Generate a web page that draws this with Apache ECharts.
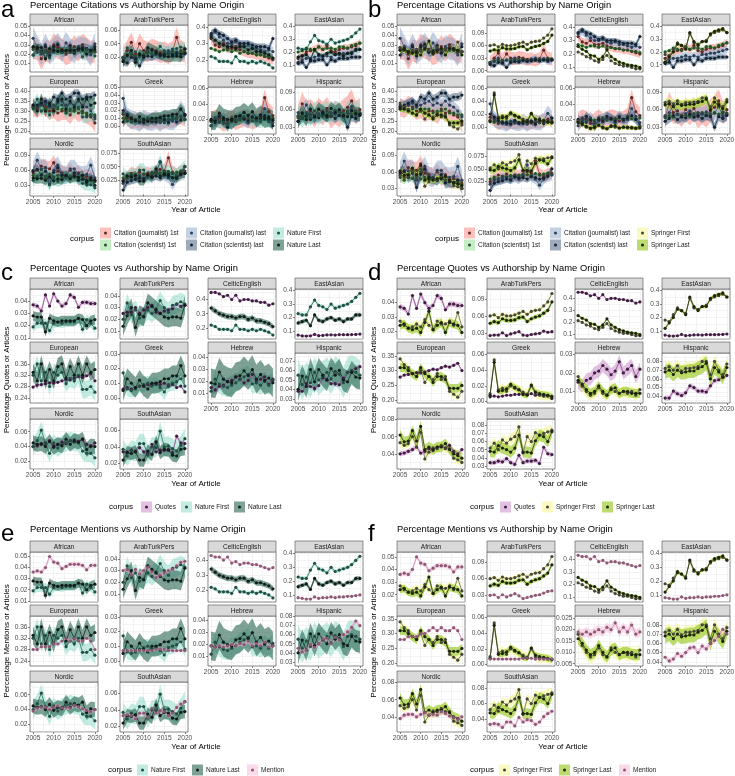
<!DOCTYPE html>
<html>
<head>
<meta charset="utf-8">
<script src="https://cdn.jsdelivr.net/npm/echarts@6/dist/echarts.min.js"></script>
<style>
html, body { margin: 0; padding: 0; background: #fff; }
#main { width: 735px; height: 776px; }
</style>
</head>
<body>
<div id="main"></div>
<script>
// ---- data (2005..2020) ----
const years = [2005,2006,2007,2008,2009,2010,2011,2012,2013,2014,2015,2016,2017,2018,2019,2020];
const facets = ['African','ArabTurkPers','CelticEnglish','EastAsian','European','Greek','Hebrew','Hispanic','Nordic','SouthAsian'];

// one row per facet, same order as facets
const citJ1 = [
  [0.027,0.025,0.015,0.024,0.022,0.030,0.027,0.025,0.020,0.022,0.028,0.024,0.030,0.026,0.022,0.023],
  [0.020,0.030,0.042,0.025,0.040,0.030,0.028,0.032,0.030,0.027,0.028,0.025,0.029,0.049,0.030,0.027],
  [0.33,0.29,0.28,0.30,0.27,0.27,0.28,0.26,0.25,0.24,0.24,0.23,0.23,0.22,0.21,0.20],
  [0.15,0.17,0.20,0.21,0.22,0.24,0.22,0.25,0.21,0.20,0.22,0.23,0.23,0.24,0.25,0.27],
  [0.32,0.31,0.33,0.32,0.30,0.31,0.29,0.30,0.30,0.28,0.31,0.29,0.30,0.28,0.27,0.24],
  [0.015,0.010,0.005,0.008,0.005,0.007,0.006,0.007,0.008,0.005,0.006,0.008,0.007,0.010,0.012,0.009],
  [0.018,0.022,0.020,0.015,0.018,0.022,0.017,0.020,0.022,0.021,0.018,0.020,0.024,0.048,0.030,0.025],
  [0.048,0.070,0.055,0.058,0.050,0.060,0.053,0.062,0.048,0.055,0.050,0.058,0.064,0.075,0.055,0.060],
  [0.055,0.060,0.068,0.065,0.063,0.075,0.058,0.055,0.050,0.060,0.050,0.055,0.045,0.048,0.045,0.040],
  [0.025,0.030,0.038,0.035,0.040,0.036,0.038,0.035,0.040,0.045,0.042,0.066,0.040,0.035,0.040,0.042]
];
const citS1 = [
  [0.025,0.027,0.022,0.023,0.025,0.024,0.025,0.022,0.024,0.026,0.024,0.025,0.024,0.024,0.023,0.022],
  [0.020,0.024,0.025,0.022,0.026,0.025,0.026,0.027,0.026,0.024,0.026,0.025,0.027,0.026,0.028,0.028],
  [0.27,0.26,0.25,0.26,0.26,0.25,0.26,0.24,0.25,0.24,0.24,0.23,0.23,0.22,0.22,0.21],
  [0.20,0.21,0.23,0.22,0.21,0.24,0.22,0.23,0.23,0.22,0.24,0.24,0.23,0.25,0.26,0.27],
  [0.31,0.32,0.30,0.31,0.32,0.30,0.31,0.31,0.29,0.30,0.30,0.31,0.29,0.29,0.28,0.28],
  [0.010,0.007,0.009,0.006,0.008,0.007,0.009,0.006,0.008,0.007,0.009,0.007,0.008,0.010,0.007,0.008],
  [0.017,0.020,0.018,0.021,0.019,0.020,0.022,0.019,0.021,0.020,0.022,0.020,0.023,0.021,0.020,0.022],
  [0.046,0.050,0.047,0.052,0.049,0.051,0.048,0.053,0.050,0.054,0.051,0.053,0.055,0.052,0.056,0.054],
  [0.050,0.045,0.053,0.048,0.052,0.047,0.050,0.046,0.049,0.044,0.047,0.043,0.045,0.041,0.040,0.037],
  [0.030,0.034,0.031,0.036,0.033,0.037,0.034,0.038,0.036,0.039,0.037,0.041,0.038,0.040,0.042,0.039]
];
const citJL = [
  [0.037,0.028,0.020,0.030,0.021,0.025,0.031,0.023,0.032,0.025,0.022,0.028,0.026,0.025,0.019,0.031],
  [0.018,0.022,0.030,0.020,0.025,0.022,0.030,0.023,0.025,0.022,0.026,0.030,0.024,0.028,0.022,0.025],
  [0.35,0.37,0.34,0.32,0.30,0.30,0.31,0.29,0.28,0.29,0.27,0.27,0.26,0.25,0.26,0.25],
  [0.12,0.14,0.15,0.15,0.16,0.17,0.16,0.17,0.16,0.18,0.18,0.19,0.19,0.20,0.21,0.22],
  [0.33,0.32,0.33,0.34,0.32,0.33,0.34,0.35,0.33,0.34,0.33,0.35,0.33,0.32,0.30,0.27],
  [0.036,0.012,0.008,0.007,0.004,0.009,0.006,0.005,0.008,0.004,0.009,0.007,0.006,0.010,0.021,0.013],
  [0.012,0.020,0.016,0.022,0.015,0.018,0.020,0.022,0.020,0.016,0.024,0.018,0.020,0.034,0.024,0.016],
  [0.050,0.055,0.068,0.052,0.047,0.053,0.058,0.050,0.055,0.052,0.056,0.050,0.054,0.065,0.050,0.052],
  [0.060,0.080,0.062,0.065,0.045,0.060,0.070,0.052,0.050,0.063,0.063,0.052,0.050,0.052,0.070,0.045],
  [0.020,0.028,0.030,0.032,0.035,0.030,0.034,0.030,0.038,0.058,0.035,0.030,0.018,0.030,0.035,0.038]
];
const citSL = [
  [0.019,0.026,0.023,0.028,0.018,0.028,0.030,0.022,0.023,0.029,0.021,0.025,0.027,0.026,0.024,0.028],
  [0.015,0.012,0.020,0.018,0.008,0.020,0.022,0.021,0.025,0.023,0.024,0.026,0.024,0.026,0.025,0.026],
  [0.36,0.38,0.36,0.35,0.33,0.31,0.32,0.30,0.30,0.30,0.29,0.28,0.28,0.28,0.27,0.33],
  [0.11,0.12,0.08,0.13,0.13,0.14,0.14,0.10,0.14,0.13,0.15,0.15,0.15,0.16,0.16,0.16],
  [0.32,0.33,0.34,0.35,0.33,0.37,0.36,0.39,0.36,0.37,0.39,0.39,0.36,0.37,0.37,0.38],
  [0.020,0.015,0.010,0.006,0.006,0.004,0.010,0.006,0.005,0.010,0.008,0.004,0.012,0.005,0.008,0.014],
  [0.020,0.016,0.024,0.019,0.010,0.020,0.018,0.024,0.021,0.018,0.023,0.020,0.022,0.025,0.020,0.012],
  [0.040,0.045,0.050,0.043,0.048,0.046,0.052,0.047,0.050,0.045,0.050,0.048,0.030,0.048,0.045,0.050],
  [0.058,0.062,0.050,0.058,0.032,0.056,0.065,0.050,0.048,0.045,0.055,0.040,0.042,0.040,0.045,0.030],
  [0.008,0.022,0.025,0.027,0.030,0.028,0.035,0.032,0.033,0.030,0.035,0.033,0.030,0.032,0.036,0.050]
];
const natFirst = [
  [0.019,0.022,0.022,0.022,0.016,0.022,0.023,0.022,0.023,0.023,0.023,0.026,0.017,0.025,0.022,0.018],
  [0.020,0.034,0.024,0.028,0.021,0.023,0.028,0.025,0.029,0.036,0.030,0.026,0.032,0.033,0.035,0.033],
  [0.22,0.21,0.19,0.19,0.19,0.18,0.22,0.19,0.19,0.18,0.19,0.18,0.19,0.18,0.17,0.15],
  [0.23,0.22,0.22,0.28,0.33,0.29,0.28,0.26,0.30,0.27,0.28,0.29,0.30,0.32,0.35,0.38],
  [0.32,0.36,0.30,0.33,0.28,0.33,0.32,0.33,0.29,0.31,0.30,0.32,0.27,0.27,0.28,0.26],
  [0.017,0.006,0.005,0.006,0.008,0.009,0.010,0.008,0.009,0.007,0.004,0.009,0.010,0.011,0.013,0.008],
  [0.012,0.022,0.018,0.016,0.015,0.017,0.019,0.022,0.024,0.026,0.018,0.019,0.017,0.020,0.017,0.021],
  [0.055,0.045,0.053,0.047,0.058,0.050,0.054,0.058,0.051,0.059,0.056,0.047,0.058,0.060,0.058,0.055],
  [0.040,0.048,0.062,0.044,0.031,0.045,0.038,0.043,0.045,0.048,0.046,0.045,0.034,0.031,0.031,0.025],
  [0.037,0.029,0.036,0.034,0.044,0.044,0.030,0.040,0.039,0.059,0.040,0.041,0.038,0.035,0.042,0.050]
];
const natLast = [
  [0.028,0.027,0.027,0.015,0.026,0.024,0.023,0.024,0.024,0.024,0.024,0.026,0.025,0.020,0.024,0.025],
  [0.014,0.023,0.030,0.013,0.024,0.022,0.034,0.031,0.028,0.025,0.022,0.021,0.022,0.022,0.021,0.032],
  [0.34,0.32,0.30,0.29,0.28,0.28,0.27,0.28,0.28,0.26,0.27,0.25,0.25,0.24,0.23,0.21],
  [0.16,0.17,0.18,0.14,0.22,0.18,0.17,0.19,0.20,0.18,0.19,0.17,0.19,0.19,0.22,0.22],
  [0.33,0.30,0.36,0.30,0.34,0.30,0.35,0.36,0.31,0.35,0.32,0.36,0.32,0.36,0.33,0.34],
  [0.005,0.013,0.010,0.007,0.012,0.008,0.006,0.010,0.010,0.011,0.013,0.013,0.015,0.015,0.022,0.015],
  [0.019,0.018,0.028,0.022,0.020,0.019,0.024,0.025,0.029,0.025,0.030,0.022,0.026,0.021,0.023,0.019],
  [0.040,0.054,0.043,0.061,0.048,0.061,0.055,0.050,0.062,0.055,0.060,0.050,0.048,0.058,0.053,0.052],
  [0.045,0.043,0.044,0.040,0.047,0.039,0.043,0.041,0.050,0.043,0.048,0.046,0.050,0.036,0.041,0.040],
  [0.024,0.033,0.032,0.034,0.024,0.024,0.035,0.031,0.046,0.033,0.037,0.036,0.030,0.029,0.037,0.038]
];
const sprFirst = [
  [0.027,0.024,0.022,0.023,0.025,0.023,0.028,0.024,0.021,0.027,0.025,0.025,0.027,0.024,0.033,0.023],
  [0.060,0.062,0.057,0.063,0.060,0.060,0.062,0.065,0.068,0.063,0.068,0.070,0.071,0.078,0.085,0.100],
  [0.215,0.20,0.18,0.17,0.15,0.14,0.16,0.19,0.15,0.13,0.12,0.11,0.11,0.10,0.09,0.09],
  [0.18,0.17,0.22,0.27,0.25,0.23,0.34,0.27,0.26,0.28,0.29,0.33,0.35,0.36,0.37,0.35],
  [0.34,0.32,0.31,0.29,0.28,0.30,0.26,0.28,0.27,0.29,0.27,0.28,0.23,0.22,0.21,0.23],
  [0.010,0.053,0.015,0.017,0.013,0.020,0.017,0.015,0.012,0.009,0.020,0.010,0.008,0.008,0.007,0.007],
  [0.018,0.013,0.010,0.008,0.009,0.012,0.009,0.008,0.012,0.010,0.009,0.010,0.009,0.010,0.008,0.011],
  [0.072,0.074,0.070,0.075,0.069,0.072,0.072,0.073,0.074,0.080,0.080,0.065,0.080,0.070,0.065,0.077],
  [0.053,0.050,0.052,0.060,0.048,0.065,0.034,0.042,0.047,0.046,0.050,0.046,0.046,0.035,0.033,0.030],
  [0.052,0.058,0.050,0.062,0.058,0.063,0.066,0.078,0.046,0.066,0.060,0.071,0.068,0.070,0.072,0.074]
];
const sprLast = [
  [0.024,0.025,0.022,0.021,0.022,0.019,0.026,0.034,0.021,0.024,0.026,0.019,0.026,0.025,0.024,0.019],
  [0.047,0.050,0.048,0.055,0.052,0.052,0.053,0.057,0.058,0.050,0.055,0.058,0.060,0.065,0.070,0.085],
  [0.257,0.235,0.22,0.19,0.185,0.16,0.18,0.23,0.18,0.16,0.14,0.13,0.12,0.115,0.11,0.10],
  [0.12,0.16,0.20,0.26,0.25,0.22,0.35,0.28,0.25,0.28,0.28,0.34,0.36,0.37,0.38,0.35],
  [0.31,0.31,0.30,0.29,0.28,0.31,0.29,0.28,0.26,0.28,0.28,0.27,0.24,0.24,0.24,0.25],
  [0.008,0.050,0.013,0.014,0.016,0.022,0.018,0.015,0.009,0.008,0.021,0.012,0.010,0.009,0.008,0.006],
  [0.016,0.014,0.011,0.009,0.010,0.013,0.010,0.008,0.011,0.012,0.009,0.010,0.010,0.009,0.009,0.009],
  [0.068,0.070,0.065,0.070,0.067,0.068,0.069,0.069,0.072,0.074,0.078,0.060,0.073,0.068,0.062,0.073],
  [0.062,0.054,0.055,0.067,0.055,0.072,0.045,0.048,0.045,0.048,0.048,0.052,0.045,0.040,0.038,0.035],
  [0.048,0.047,0.055,0.052,0.050,0.047,0.052,0.068,0.047,0.047,0.046,0.061,0.068,0.066,0.060,0.072]
];
const quotes = [
  [0.037,0.036,0.032,0.045,0.036,0.046,0.040,0.036,0.038,0.045,0.043,0.035,0.039,0.039,0.038,0.038],
  [0.025,0.026,0.026,0.030,0.025,0.028,0.030,0.032,0.026,0.025,0.027,0.028,0.029,0.033,0.031,0.032],
  [0.45,0.45,0.44,0.42,0.43,0.40,0.43,0.39,0.40,0.40,0.39,0.39,0.38,0.38,0.36,0.37],
  [0.070,0.064,0.063,0.065,0.075,0.066,0.068,0.071,0.072,0.070,0.074,0.073,0.073,0.074,0.075,0.078],
  [0.278,0.285,0.287,0.290,0.293,0.292,0.295,0.300,0.305,0.303,0.310,0.315,0.312,0.318,0.325,0.300],
  [0.006,0.007,0.006,0.007,0.008,0.008,0.009,0.009,0.010,0.009,0.010,0.008,0.009,0.007,0.008,0.004],
  [0.015,0.013,0.016,0.017,0.020,0.021,0.024,0.022,0.019,0.021,0.026,0.020,0.022,0.024,0.018,0.022],
  [0.038,0.038,0.046,0.043,0.041,0.044,0.052,0.050,0.046,0.046,0.045,0.052,0.058,0.059,0.062,0.064],
  [0.040,0.041,0.043,0.045,0.048,0.041,0.043,0.046,0.044,0.048,0.049,0.047,0.050,0.043,0.040,0.045],
  [0.034,0.034,0.036,0.035,0.039,0.034,0.032,0.043,0.034,0.036,0.036,0.037,0.033,0.053,0.045,0.044]
];
const mention = [
  [0.036,0.037,0.036,0.040,0.050,0.045,0.044,0.039,0.041,0.043,0.043,0.043,0.042,0.038,0.042,0.042],
  [0.030,0.031,0.026,0.031,0.027,0.030,0.033,0.029,0.024,0.026,0.028,0.030,0.031,0.034,0.037,0.038],
  [0.43,0.42,0.42,0.40,0.42,0.38,0.39,0.37,0.38,0.38,0.37,0.37,0.36,0.35,0.34,0.35],
  [0.080,0.075,0.070,0.070,0.085,0.075,0.080,0.080,0.085,0.080,0.085,0.085,0.090,0.090,0.095,0.100],
  [0.28,0.28,0.29,0.29,0.29,0.30,0.30,0.31,0.32,0.31,0.32,0.31,0.31,0.32,0.31,0.28],
  [0.007,0.007,0.007,0.007,0.007,0.007,0.007,0.007,0.008,0.008,0.008,0.007,0.007,0.007,0.007,0.007],
  [0.019,0.018,0.019,0.018,0.019,0.020,0.019,0.021,0.020,0.023,0.019,0.021,0.019,0.022,0.018,0.019],
  [0.045,0.041,0.043,0.049,0.046,0.050,0.055,0.056,0.050,0.057,0.054,0.060,0.063,0.068,0.075,0.070],
  [0.038,0.042,0.043,0.043,0.040,0.043,0.045,0.042,0.043,0.042,0.046,0.044,0.041,0.039,0.037,0.040],
  [0.033,0.034,0.033,0.029,0.036,0.036,0.031,0.042,0.036,0.039,0.038,0.033,0.036,0.043,0.047,0.050]
];

// confidence band half-widths, one per facet
const citJ1Band    = [0.012,0.015,0.030,0.030,0.045,0.010,0.011,0.020,0.015,0.012];
const citS1Band    = [0.003,0.004,0.010,0.015,0.015,0.003,0.003,0.005,0.008,0.004];
const citJLBand    = [0.012,0.008,0.030,0.030,0.030,0.012,0.008,0.012,0.018,0.010];
const citSLBand    = [0.005,0.006,0.020,0.020,0.020,0.005,0.006,0.008,0.010,0.007];
const natFirstBand = [0.004,0.008,0.012,0.015,0.030,0.005,0.008,0.016,0.012,0.012];
const natLastBand  = [0.004,0.008,0.020,0.015,0.030,0.007,0.012,0.012,0.010,0.008];
const sprFirstBand = [0.003,0.004,0.008,0.010,0.012,0.006,0.003,0.007,0.005,0.007];
const sprLastBand  = [0.003,0.004,0.010,0.012,0.015,0.004,0.0025,0.008,0.006,0.007];
const quotesBand   = [0.002,0.002,0.008,0.005,0.005,0.001,0.0035,0.003,0.003,0.003];
const mentionBand  = [0.002,0.002,0.008,0.005,0.005,0.001,0.002,0.003,0.003,0.003];

// y tick labels per panel, one list per facet
const ticksA = [['0.01','0.02','0.03','0.04','0.05'],['0.02','0.04','0.06'],['0.2','0.3','0.4'],['0.1','0.2','0.3','0.4'],['0.20','0.25','0.30','0.35','0.40'],['0.00','0.01','0.02','0.03','0.04','0.05'],['0.02','0.04','0.06'],['0.03','0.06','0.09'],['0.03','0.06','0.09'],['0.025','0.050','0.075']];
const ticksB = [['0.01','0.02','0.03','0.04','0.05'],['0.00','0.03','0.06','0.09'],['0.1','0.2','0.3','0.4'],['0.1','0.2','0.3','0.4'],['0.20','0.25','0.30','0.35','0.40'],['0.00','0.02','0.04','0.06'],['0.00','0.02','0.04','0.06'],['0.03','0.06','0.09'],['0.03','0.06','0.09'],['0.025','0.050','0.075']];
const ticksC = [['0.01','0.02','0.03','0.04'],['0.01','0.02','0.03','0.04'],['0.2','0.3','0.4'],['0.1','0.2','0.3','0.4'],['0.24','0.28','0.32','0.36'],['0.00','0.01','0.02','0.03'],['0.01','0.02','0.03','0.04'],['0.03','0.04','0.05','0.06','0.07','0.08'],['0.02','0.04','0.06'],['0.02','0.04','0.06']];
const ticksD = [['0.02','0.03','0.04'],['0.03','0.06','0.09'],['0.1','0.2','0.3','0.4'],['0.1','0.2','0.3','0.4'],['0.20','0.25','0.30','0.35'],['0.00','0.02','0.04','0.06'],['0.01','0.02','0.03'],['0.04','0.05','0.06','0.07','0.08','0.09'],['0.04','0.06','0.08'],['0.03','0.04','0.05','0.06','0.07','0.08','0.09']];
const ticksE = [['0.01','0.02','0.03','0.04','0.05'],['0.01','0.02','0.03','0.04'],['0.2','0.3','0.4'],['0.1','0.2','0.3','0.4'],['0.24','0.28','0.32','0.36'],['0.00','0.01','0.02','0.03'],['0.01','0.02','0.03','0.04'],['0.03','0.04','0.05','0.06','0.07','0.08'],['0.02','0.04','0.06'],['0.02','0.04','0.06']];
const ticksF = [['0.02','0.03','0.04','0.05'],['0.03','0.06','0.09'],['0.1','0.2','0.3','0.4'],['0.1','0.2','0.3','0.4'],['0.20','0.25','0.30','0.35'],['0.00','0.02','0.04','0.06'],['0.005','0.010','0.015','0.020','0.025'],['0.04','0.05','0.06','0.07','0.08','0.09'],['0.04','0.06','0.08'],['0.04','0.06','0.08']];
const xTicks = [2005, 2010, 2015, 2020];

// ---- styles ----
const FONT = '"Liberation Sans", Arial, sans-serif';
const SERIES = {
  citJ1:    { name: 'Citation (journalist) 1st', data: citJ1, band: citJ1Band, fill: 'rgba(248,118,109,0.45)', line: '#8a4440', point: '#5e2a27' },
  citS1:    { name: 'Citation (scientist) 1st',  data: citS1, band: citS1Band, fill: 'rgba(124,214,124,0.45)', line: '#3f7a3f', point: '#2a522a' },
  citJL:    { name: 'Citation (journalist) last', data: citJL, band: citJLBand, fill: 'rgba(137,164,200,0.5)', line: '#435d7c', point: '#2e4055' },
  citSL:    { name: 'Citation (scientist) last', data: citSL, band: citSLBand, fill: 'rgba(60,88,120,0.5)', line: '#1f3347', point: '#16232f' },
  natFirst: { name: 'Nature First', data: natFirst, band: natFirstBand, fill: 'rgba(120,210,190,0.45)', line: '#2e6b5e', point: '#234d44' },
  natLast:  { name: 'Nature Last', data: natLast, band: natLastBand, fill: 'rgba(40,100,80,0.6)', line: '#1a2e28', point: '#111d1a' },
  sprFirst: { name: 'Springer First', data: sprFirst, band: sprFirstBand, fill: 'rgba(245,245,150,0.6)', line: '#6a6a55', point: '#45453a' },
  sprLast:  { name: 'Springer Last', data: sprLast, band: sprLastBand, fill: 'rgba(160,205,50,0.7)', line: '#2c3a10', point: '#1c250b' },
  quotes:   { name: 'Quotes', data: quotes, band: quotesBand, fill: 'rgba(200,140,200,0.55)', line: '#8c4f8c', point: '#3e1e3e' },
  mention:  { name: 'Mention', data: mention, band: mentionBand, fill: 'rgba(245,180,215,0.5)', line: '#c98bb0', point: '#8a5a74' }
};

// ---- layout of the six panels ----
const colLeft = [30, 120, 208, 295];
const colW = 68;
const stripH = 11;
const panels = [
  { letter: 'a', ox: 0,   title: 'Percentage Citations vs Authorship by Name Origin', yTitle: 'Percentage Citations or Articles',
    keys: ['citJ1','citS1','citJL','citSL','natFirst','natLast'], ticks: ticksA,
    letterY: 10, titleY: 5, strips: [14, 76, 138], plotH: 47, yTitleY: 110, xTitleY: 210,
    corpus: [70, 239], legend: [['citJ1',100,233],['citS1',100,245],['citJL',186,233],['citSL',186,245],['natFirst',273,233],['natLast',273,245]] },
  { letter: 'b', ox: 367, title: 'Percentage Citations vs Authorship by Name Origin', yTitle: 'Percentage Citations or Articles',
    keys: ['citJ1','citS1','citJL','citSL','sprFirst','sprLast'], ticks: ticksB,
    letterY: 10, titleY: 5, strips: [14, 76, 138], plotH: 47, yTitleY: 110, xTitleY: 210,
    corpus: [435, 239], legend: [['citJ1',464,233],['citS1',464,245],['citJL',550,233],['citSL',550,245],['sprFirst',637,233],['sprLast',637,245]] },
  { letter: 'c', ox: 0,   title: 'Percentage Quotes vs Authorship by Name Origin', yTitle: 'Percentage Quotes or Articles',
    keys: ['quotes','natFirst','natLast'], ticks: ticksC,
    letterY: 273, titleY: 268, strips: [278, 342, 408], plotH: 50, yTitleY: 380, xTitleY: 484,
    corpus: [109, 507], legend: [['quotes',141,507],['natFirst',181,507],['natLast',234,507]] },
  { letter: 'd', ox: 367, title: 'Percentage Quotes vs Authorship by Name Origin', yTitle: 'Percentage Quotes or Articles',
    keys: ['quotes','sprFirst','sprLast'], ticks: ticksD,
    letterY: 273, titleY: 268, strips: [278, 342, 408], plotH: 50, yTitleY: 380, xTitleY: 484,
    corpus: [470, 507], legend: [['quotes',500,507],['sprFirst',542,507],['sprLast',602,507]] },
  { letter: 'e', ox: 0,   title: 'Percentage Mentions vs Authorship by Name Origin', yTitle: 'Percentage Mentions or Articles',
    keys: ['natFirst','natLast','mention'], ticks: ticksE,
    letterY: 534, titleY: 529, strips: [541, 605, 671], plotH: 50, yTitleY: 641, xTitleY: 747,
    corpus: [108, 770], legend: [['natFirst',137,770],['natLast',192,770],['mention',247,770]] },
  { letter: 'f', ox: 367, title: 'Percentage Mentions vs Authorship by Name Origin', yTitle: 'Percentage Mentions or Articles',
    keys: ['sprFirst','sprLast','mention'], ticks: ticksF,
    letterY: 534, titleY: 529, strips: [541, 605, 671], plotH: 50, yTitleY: 641, xTitleY: 747,
    corpus: [470, 770], legend: [['sprFirst',499,770],['sprLast',559,770],['mention',619,770]] }
];

function txt(x, y, text, size, opts) {
  opts = opts || {};
  return {
    type: 'text', x: x, y: y, rotation: opts.rotation || 0, z: 100,
    style: {
      text: text, fill: opts.color || '#000', font: size + 'px ' + FONT,
      align: opts.align || 'left', verticalAlign: 'middle',
      textAlign: opts.align || 'left', textVerticalAlign: 'middle'
    }
  };
}

function withMinors(vals, lo, hi) {
  const out = vals.slice();
  const step = vals.length > 1 ? vals[1] - vals[0] : (hi - lo);
  for (let i = -1; i < vals.length; i++) {
    const m = (i < 0 ? vals[0] - step : vals[i]) + step / 2;
    if (m >= lo && m <= hi) out.push(m);
  }
  return out;
}

const grids = [], xAxes = [], yAxes = [], series = [], graphics = [];

panels.forEach(p => {
  // panel furniture
  graphics.push(txt(p.ox + 1, p.letterY, p.letter, 24, { color: '#000' }));
  graphics.push(txt(p.ox + 30, p.titleY, p.title, 9.4, { color: '#000' }));
  graphics.push(txt(p.ox + 7, p.yTitleY, p.yTitle, 8, { color: '#000', align: 'center', rotation: Math.PI / 2 }));
  graphics.push(txt(p.ox + 196, p.xTitleY, 'Year of Article', 8, { color: '#000', align: 'center' }));
  graphics.push(txt(p.corpus[0], p.corpus[1], 'corpus', 8, { color: '#000' }));
  p.legend.forEach(([k, x, y]) => {
    const s = SERIES[k];
    graphics.push({ type: 'rect', shape: { x: x, y: y - 5.5, width: 11, height: 11 }, style: { fill: s.fill }, z: 100 });
    graphics.push({ type: 'circle', shape: { cx: x + 5.5, cy: y, r: 1.5 }, style: { fill: s.point }, z: 101 });
    graphics.push(txt(x + 14, y, s.name, 6.5, { color: '#1a1a1a' }));
  });

  facets.forEach((name, f) => {
    const row = Math.floor(f / 4), col = f % 4;
    const left = p.ox + colLeft[col];
    const sTop = p.strips[row];
    const top = sTop + stripH;
    const gi = grids.length;

    // strip
    graphics.push({ type: 'rect', shape: { x: left, y: sTop, width: colW, height: stripH },
      style: { fill: '#d9d9d9', stroke: '#333333', lineWidth: 0.5 }, z: 90 });
    graphics.push(txt(left + colW / 2, sTop + stripH / 2 + 0.3, name, 6.6, { color: '#1a1a1a', align: 'center' }));

    grids.push({ left: left, top: top, width: colW, height: p.plotH, show: true,
      borderColor: '#333333', borderWidth: 0.6, backgroundColor: '#fff', outerBoundsMode: 'none' });

    // free y range: data + band, expanded 5% like ggplot
    let lo = Infinity, hi = -Infinity;
    p.keys.forEach(k => {
      const d = SERIES[k].data[f], b = SERIES[k].band[f];
      d.forEach(v => { lo = Math.min(lo, v - b); hi = Math.max(hi, v + b); });
    });
    const pad = (hi - lo) * 0.05;
    const yMin = lo - pad, yMax = hi + pad;
    const labels = p.ticks[f];
    const allVals = labels.map(Number);
    const yVals = allVals.filter(v => v >= yMin && v <= yMax);
    const xMin = 2004.25, xMax = 2020.75;

    const showX = (row === 2) || (row === 1 && col >= 2);
    const labelStyle = { fontSize: 6.6, color: '#4d4d4d', fontFamily: FONT };

    // gridline axes (major + minor)
    xAxes.push({ type: 'value', gridIndex: gi, position: 'bottom', min: xMin, max: xMax,
      axisLine: { show: false }, axisLabel: { show: false },
      axisTick: { show: false, customValues: withMinors(xTicks, xMin, xMax) },
      splitLine: { show: true, lineStyle: { color: '#ebebeb', width: 0.6 } } });
    yAxes.push({ type: 'value', gridIndex: gi, position: 'left', min: yMin, max: yMax,
      axisLine: { show: false }, axisLabel: { show: false },
      axisTick: { show: false, customValues: withMinors(allVals, yMin, yMax) },
      splitLine: { show: true, lineStyle: { color: '#ebebeb', width: 0.6 } } });
    // labelled axes
    const xi = xAxes.length, yi = yAxes.length;
    xAxes.push({ type: 'value', gridIndex: gi, position: 'bottom', offset: 0, min: xMin, max: xMax,
      axisLine: { show: false }, splitLine: { show: false },
      axisTick: { show: showX, length: 2, customValues: xTicks, lineStyle: { color: '#333333', width: 0.6 } },
      axisLabel: Object.assign({ show: showX, margin: 2.5, customValues: xTicks,
        formatter: v => String(Math.round(v)) }, labelStyle) });
    yAxes.push({ type: 'value', gridIndex: gi, position: 'left', offset: 0, min: yMin, max: yMax,
      axisLine: { show: false }, splitLine: { show: false },
      axisTick: { show: true, length: 2, customValues: yVals, lineStyle: { color: '#333333', width: 0.6 } },
      axisLabel: Object.assign({ show: true, margin: 2.5, customValues: yVals, hideOverlap: false,
        formatter: v => { const i = allVals.findIndex(t => Math.abs(t - v) < 1e-9); return i >= 0 ? labels[i] : ''; } }, labelStyle) });

    // confidence ribbons first (polygon through the axis scales)
    p.keys.forEach(k => {
      const s = SERIES[k], d = s.data[f], b = s.band[f];
      series.push({ type: 'custom', xAxisIndex: xi, yAxisIndex: yi, silent: true, clip: true, z: 1,
        data: years.map((yr, i) => [yr, d[i] - b, d[i] + b]),
        encode: { x: 0, y: [1, 2] },
        renderItem: (params, api) => {
          if (params.dataIndex !== 0) return null;
          const up = [], dn = [];
          years.forEach((yr, i) => {
            up.push(api.coord([yr, d[i] + b]));
            dn.push(api.coord([yr, d[i] - b]));
          });
          return { type: 'polygon', shape: { points: up.concat(dn.reverse()) }, style: { fill: s.fill } };
        } });
    });
    // lines + points
    p.keys.forEach(k => {
      const s = SERIES[k], d = s.data[f];
      series.push({ type: 'line', xAxisIndex: xi, yAxisIndex: yi, silent: true, z: 3,
        symbol: 'circle', symbolSize: 3.2, showSymbol: true,
        lineStyle: { color: s.line, width: 0.8 }, itemStyle: { color: s.point },
        data: years.map((yr, i) => [yr, d[i]]) });
    });
  });
});

const chart = echarts.init(document.getElementById('main'), null, { renderer: 'canvas' });
chart.setOption({
  animation: false,
  backgroundColor: '#fff',
  textStyle: { fontFamily: FONT },
  grid: grids,
  xAxis: xAxes,
  yAxis: yAxes,
  series: series,
  graphic: { elements: graphics }
});
</script>
</body>
</html>
